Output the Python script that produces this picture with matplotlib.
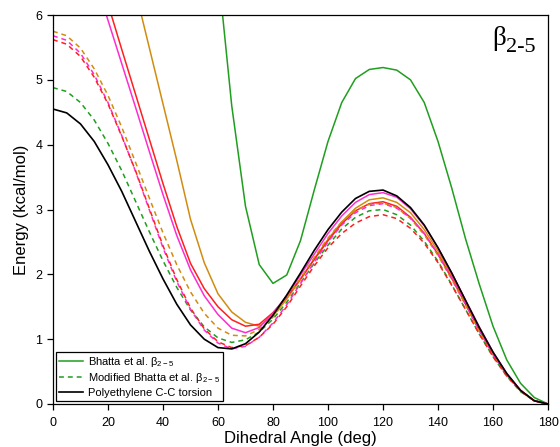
#%%
import numpy as np
import matplotlib
matplotlib.use("Agg")
import matplotlib.pyplot as plt

nan = np.nan

# %%
# Datos: energia de torsion (kcal/mol) cada 5 grados del angulo diedro
angulo = list(range(0, 181, 5))

# Bhatta et al. beta 2-5 (curva original)
bhatta = [nan, nan, nan, nan, nan, nan, nan, nan, nan, nan, nan, nan,
          6.70, 4.60, 3.05, 2.15, 1.86, 1.99, 2.52, 3.30, 4.05, 4.65, 5.02, 5.16,
          5.19, 5.15, 5.00, 4.65, 4.05, 3.33, 2.55, 1.85, 1.20, 0.68, 0.32, 0.10, 0.00]

# variantes (lineas continuas)
naranja = [nan, nan, nan, nan, nan, nan, 6.37, 5.50, 4.63, 3.76, 2.85, 2.18,
           1.70, 1.42, 1.26, 1.20, 1.36, 1.62, 1.92, 2.24, 2.54, 2.81, 3.02, 3.15,
           3.18, 3.11, 2.95, 2.69, 2.36, 1.98, 1.57, 1.17, 0.79, 0.46, 0.21, 0.05, 0.00]
rojo = [nan, nan, nan, 6.86, 6.17, 5.47, 4.78, 4.09, 3.40, 2.74, 2.17, 1.78,
        1.50, 1.30, 1.20, 1.23, 1.41, 1.65, 1.93, 2.23, 2.52, 2.78, 2.98, 3.09,
        3.12, 3.05, 2.88, 2.63, 2.31, 1.94, 1.54, 1.14, 0.77, 0.45, 0.21, 0.05, 0.00]
magenta = [nan, nan, nan, 6.60, 5.92, 5.25, 4.58, 3.90, 3.23, 2.60, 2.07, 1.67,
           1.38, 1.17, 1.10, 1.18, 1.40, 1.67, 1.99, 2.31, 2.63, 2.90, 3.11, 3.23,
           3.26, 3.19, 3.01, 2.75, 2.41, 2.02, 1.60, 1.19, 0.80, 0.47, 0.21, 0.05, 0.00]

# Bhatta modificado (lineas discontinuas)
bhatta_mod = [4.88, 4.82, 4.65, 4.38, 4.02, 3.60, 3.13, 2.66, 2.21, 1.80, 1.45, 1.19,
              1.02, 0.95, 0.99, 1.11, 1.31, 1.57, 1.87, 2.17, 2.45, 2.70, 2.88, 2.98,
              3.00, 2.92, 2.76, 2.51, 2.20, 1.84, 1.46, 1.08, 0.73, 0.43, 0.19, 0.05, 0.00]
naranja_mod = [5.75, 5.68, 5.49, 5.17, 4.76, 4.27, 3.73, 3.18, 2.64, 2.15, 1.73, 1.40,
               1.17, 1.06, 1.05, 1.15, 1.34, 1.63, 1.94, 2.26, 2.56, 2.81, 2.99, 3.08,
               3.10, 3.03, 2.86, 2.61, 2.29, 1.92, 1.53, 1.13, 0.76, 0.45, 0.20, 0.05, 0.00]
magenta_mod = [5.68, 5.61, 5.41, 5.08, 4.65, 4.14, 3.59, 3.00, 2.41, 1.89, 1.46, 1.14,
               0.94, 0.85, 0.89, 1.03, 1.25, 1.53, 1.86, 2.19, 2.50, 2.76, 2.95, 3.06,
               3.09, 3.02, 2.87, 2.63, 2.31, 1.94, 1.54, 1.14, 0.77, 0.45, 0.21, 0.05, 0.00]
rojo_mod = [5.62, 5.55, 5.36, 5.04, 4.63, 4.13, 3.60, 3.02, 2.44, 1.92, 1.48, 1.16,
            0.96, 0.87, 0.90, 1.03, 1.23, 1.50, 1.82, 2.13, 2.41, 2.63, 2.79, 2.89,
            2.92, 2.86, 2.71, 2.48, 2.18, 1.83, 1.46, 1.08, 0.73, 0.43, 0.20, 0.05, 0.00]

# Polietileno C-C
polietileno = [4.55, 4.49, 4.32, 4.05, 3.69, 3.28, 2.82, 2.36, 1.93, 1.54, 1.22, 1.00,
               0.87, 0.85, 0.93, 1.11, 1.37, 1.68, 2.02, 2.37, 2.69, 2.96, 3.17, 3.28,
               3.30, 3.21, 3.03, 2.76, 2.41, 2.02, 1.60, 1.18, 0.80, 0.47, 0.21, 0.05, 0.00]

# %%
plt.rcParams["font.family"] = ["Liberation Sans", "DejaVu Sans"]
plt.rcParams["mathtext.fontset"] = "custom"
plt.rcParams["mathtext.rm"] = "Liberation Sans"

verde = "#1f9e1f"
c_naranja = "#d18c10"
c_rojo = "#ff1f1f"
c_magenta = "#ff2ccf"
guion = (0, (3.2, 2.6))

fig = plt.figure(figsize=(5.6, 4.47), dpi=100)
ax = fig.add_axes([0.0946, 0.0962, 0.884, 0.8702])

lw = 1.1
ax.plot(angulo, bhatta, color=verde, lw=lw, label="Bhatta et al. \u03b2$_{\\mathregular{2-5}}$")
ax.plot(angulo, naranja, color=c_naranja, lw=lw)
ax.plot(angulo, rojo, color=c_rojo, lw=lw)
ax.plot(angulo, magenta, color=c_magenta, lw=lw)

ax.plot(angulo, bhatta_mod, color=verde, lw=lw, linestyle=guion,
        label="Modified Bhatta et al. \u03b2$_{\\mathregular{2-5}}$")
ax.plot(angulo, naranja_mod, color=c_naranja, lw=lw, linestyle=guion)
ax.plot(angulo, magenta_mod, color=c_magenta, lw=lw, linestyle=guion)
ax.plot(angulo, rojo_mod, color=c_rojo, lw=lw, linestyle=guion)

ax.plot(angulo, polietileno, color="black", lw=lw * 1.1, label="Polyethylene C-C torsion")

# Ejes
ax.set_xlim(0, 180)
ax.set_ylim(0, 6)
ax.set_xticks(range(0, 181, 20))
ax.set_yticks(range(0, 7))
ax.tick_params(direction="out", length=4.5, width=0.9, labelsize=9, pad=5)
ax.tick_params(axis="y", pad=3)
for s in ax.spines.values():
    s.set_linewidth(0.9)

ax.set_xlabel("Dihedral Angle (deg)", fontsize=12, labelpad=1)
ax.set_ylabel("Energy (kcal/mol)", fontsize=12, labelpad=5)

# Etiqueta beta 2-5 arriba a la derecha
ax.text(0.916, 0.972, "\u03b2", transform=ax.transAxes, fontsize=19.5,
        family="Liberation Serif", ha="right", va="top")
ax.text(0.916, 0.942, "2-5", transform=ax.transAxes, fontsize=16,
        family="Liberation Serif", ha="left", va="top")

leg = ax.legend(loc="lower left", bbox_to_anchor=(0.006, 0.008), fontsize=8,
                frameon=True, fancybox=False, edgecolor="black", framealpha=1,
                handlelength=2.1, handletextpad=0.5, borderpad=0.3,
                labelspacing=0.2, borderaxespad=0)
leg.get_frame().set_linewidth(0.9)

plt.savefig("out.png", dpi=100)
plt.close()
